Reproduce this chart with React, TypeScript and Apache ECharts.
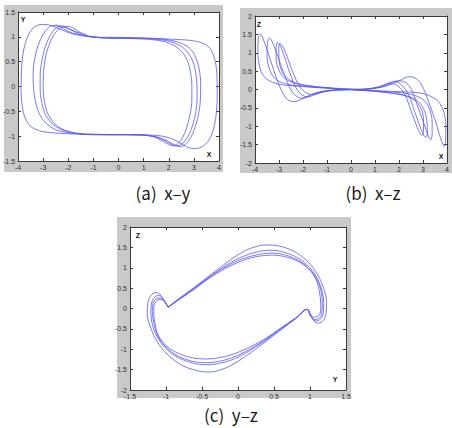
import React, { useEffect, useRef } from "react";
import * as echarts from "echarts";

type Pt = [number, number];

// ---- (a) x–y projection: traced orbit loops ----
const xyLoop1: Pt[] = [[0.0,0.99],[0.9,0.98],[1.8,0.96],[2.6,0.94],[3.1,0.91],[3.45,0.85],[3.68,0.74],[3.84,0.53],[3.92,0.2],[3.93,-0.15],[3.9,-0.5],[3.8,-0.82],[3.6,-1.08],[3.3,-1.22],[3.0,-1.25],[2.7,-1.21],[2.4,-1.12],[2.0,-1.03],[1.4,-0.98],[0.6,-0.97],[-0.4,-0.97],[-1.3,-0.96],[-2.1,-0.95],[-2.7,-0.93],[-3.15,-0.89],[-3.5,-0.8],[-3.72,-0.63],[-3.83,-0.4],[-3.88,-0.1],[-3.87,0.25],[-3.82,0.6],[-3.68,0.92],[-3.45,1.15],[-3.18,1.24],[-2.93,1.25],[-2.65,1.22],[-2.3,1.15],[-1.9,1.07],[-1.4,1.02],[-0.7,0.99],[0.0,0.99]];
const xyLoop2: Pt[] = [[0.0,0.98],[0.9,0.97],[1.6,0.96],[2.1,0.93],[2.5,0.87],[2.85,0.76],[3.08,0.58],[3.21,0.35],[3.27,0.05],[3.26,-0.25],[3.2,-0.52],[3.06,-0.8],[2.86,-1.04],[2.65,-1.17],[2.47,-1.21],[2.25,-1.18],[1.95,-1.1],[1.55,-1.02],[1.0,-0.98],[0.2,-0.97],[-0.8,-0.97],[-1.5,-0.96],[-2.0,-0.93],[-2.45,-0.88],[-2.82,-0.77],[-3.1,-0.6],[-3.28,-0.36],[-3.38,-0.06],[-3.4,0.25],[-3.34,0.55],[-3.2,0.83],[-3.0,1.05],[-2.78,1.19],[-2.57,1.23],[-2.33,1.2],[-2.05,1.12],[-1.65,1.05],[-1.1,1.0],[-0.5,0.98],[0.0,0.98]];
const xyLoop3: Pt[] = [[0.0,0.97],[0.9,0.97],[1.5,0.95],[1.95,0.92],[2.35,0.85],[2.68,0.73],[2.92,0.55],[3.06,0.32],[3.12,0.05],[3.13,-0.22],[3.08,-0.5],[2.95,-0.78],[2.75,-1.02],[2.52,-1.16],[2.3,-1.2],[2.08,-1.16],[1.8,-1.08],[1.45,-1.01],[0.9,-0.98],[0.0,-0.97],[-0.9,-0.97],[-1.45,-0.96],[-1.95,-0.92],[-2.35,-0.85],[-2.68,-0.73],[-2.92,-0.55],[-3.06,-0.32],[-3.12,-0.05],[-3.12,0.22],[-3.06,0.5],[-2.93,0.78],[-2.73,1.02],[-2.5,1.17],[-2.26,1.22],[-2.02,1.18],[-1.75,1.1],[-1.4,1.03],[-0.9,0.99],[0.0,0.97]];
const xyLoop4: Pt[] = [[0.0,0.97],[0.8,0.96],[1.4,0.94],[1.85,0.9],[2.2,0.83],[2.5,0.71],[2.73,0.53],[2.86,0.3],[2.92,0.02],[2.92,-0.25],[2.86,-0.53],[2.73,-0.8],[2.55,-1.03],[2.35,-1.16],[2.15,-1.19],[1.93,-1.15],[1.65,-1.07],[1.3,-1.0],[0.7,-0.97],[-0.2,-0.97],[-1.0,-0.96],[-1.5,-0.95],[-1.95,-0.91],[-2.3,-0.84],[-2.6,-0.72],[-2.82,-0.54],[-2.95,-0.3],[-3.0,-0.02],[-2.99,0.27],[-2.92,0.55],[-2.78,0.82],[-2.56,1.05],[-2.3,1.18],[-2.0,1.21],[-1.75,1.16],[-1.5,1.08],[-1.2,1.02],[-0.7,0.98],[0.0,0.97]];
const xyTail: Pt[] = [[-2.5,1.24],[-2.2,1.2],[-1.85,1.13],[-1.55,1.08],[-1.3,1.05]];

// ---- (b) x–z projection ----
const xzLoop1: Pt[] = [[0.0,0.0],[-0.9,-0.03],[-1.5,-0.1],[-1.95,-0.22],[-2.35,-0.33],[-2.65,-0.27],[-2.88,-0.05],[-3.1,0.3],[-3.33,0.75],[-3.55,1.18],[-3.7,1.43],[-3.8,1.52],[-3.86,1.38],[-3.88,1.05],[-3.84,0.72],[-3.7,0.43],[-3.46,0.26],[-3.05,0.15],[-2.45,0.1],[-1.7,0.07],[-0.9,0.04],[0.0,0.0],[0.9,0.03],[1.5,0.1],[1.95,0.22],[2.45,0.35],[2.78,0.26],[3.02,0.02],[3.28,-0.42],[3.5,-0.82],[3.66,-1.18],[3.8,-1.45],[3.9,-1.55],[3.94,-1.4],[3.95,-1.05],[3.9,-0.7],[3.74,-0.42],[3.5,-0.25],[3.0,-0.11],[2.4,-0.07],[1.7,-0.05],[0.9,-0.03],[0.0,0.0]];
const xzLoop2: Pt[] = [[0,0.01],[-0.9,-0.02],[-1.5,-0.1],[-2.0,-0.24],[-2.3,-0.17],[-2.55,0.05],[-2.8,0.45],[-3.05,0.9],[-3.25,1.25],[-3.4,1.4],[-3.48,1.28],[-3.5,0.95],[-3.42,0.6],[-3.2,0.32],[-2.8,0.17],[-2.2,0.1],[-1.4,0.05],[-0.6,0.02],[0.3,-0.01],[1.0,0.03],[1.5,0.12],[1.95,0.24],[2.3,0.18],[2.55,-0.05],[2.8,-0.5],[3.05,-0.95],[3.22,-1.27],[3.31,-1.37],[3.38,-1.22],[3.38,-0.9],[3.28,-0.55],[3.05,-0.3],[2.65,-0.16],[2.1,-0.09],[1.3,-0.05],[0.6,-0.02],[0,0.01]];
const xzLoop3: Pt[] = [[0,-0.01],[-0.8,-0.03],[-1.35,-0.1],[-1.8,-0.2],[-2.1,-0.12],[-2.35,0.12],[-2.6,0.55],[-2.82,0.98],[-2.97,1.22],[-3.06,1.28],[-3.12,1.15],[-3.12,0.85],[-3.0,0.52],[-2.75,0.3],[-2.35,0.17],[-1.8,0.1],[-1.0,0.05],[-0.3,0.02],[0.5,0.0],[1.1,0.06],[1.45,0.14],[1.8,0.22],[2.1,0.13],[2.4,-0.15],[2.65,-0.6],[2.9,-1.05],[3.05,-1.27],[3.13,-1.3],[3.18,-1.15],[3.16,-0.85],[3.02,-0.52],[2.75,-0.3],[2.3,-0.17],[1.7,-0.1],[1.0,-0.05],[0,-0.01]];
const xzLoop4: Pt[] = [[0,0.0],[-0.7,-0.02],[-1.2,-0.07],[-1.55,-0.14],[-1.9,-0.08],[-2.2,0.15],[-2.5,0.6],[-2.72,1.0],[-2.87,1.2],[-2.96,1.25],[-3.01,1.12],[-3.0,0.82],[-2.88,0.5],[-2.6,0.28],[-2.2,0.16],[-1.6,0.09],[-0.9,0.04],[0,0.0],[0.7,0.02],[1.2,0.08],[1.6,0.17],[1.95,0.1],[2.25,-0.15],[2.5,-0.58],[2.75,-1.02],[2.9,-1.22],[2.96,-1.25],[3.02,-1.12],[3.02,-0.82],[2.9,-0.5],[2.62,-0.28],[2.2,-0.16],[1.6,-0.09],[0.9,-0.04],[0,0.0]];

// ---- (c) y–z projection ----
const yzLoop1: Pt[] = [[-0.97,0.04],[-0.8,0.27],[-0.6,0.53],[-0.35,0.87],[-0.1,1.2],[0.1,1.42],[0.25,1.52],[0.4,1.56],[0.58,1.53],[0.78,1.4],[0.95,1.18],[1.08,0.9],[1.18,0.55],[1.23,0.15],[1.22,-0.15],[1.17,-0.32],[1.1,-0.36],[1.03,-0.22],[0.96,-0.02],[0.8,-0.25],[0.6,-0.52],[0.35,-0.86],[0.1,-1.18],[-0.1,-1.4],[-0.25,-1.51],[-0.4,-1.56],[-0.58,-1.52],[-0.78,-1.39],[-0.96,-1.16],[-1.1,-0.88],[-1.2,-0.53],[-1.26,-0.13],[-1.25,0.15],[-1.2,0.34],[-1.12,0.39],[-1.05,0.26],[-0.97,0.04]];
const yzLoop2: Pt[] = [[-0.97,0.03],[-0.8,0.26],[-0.6,0.51],[-0.35,0.84],[-0.1,1.13],[0.1,1.3],[0.27,1.39],[0.43,1.43],[0.6,1.4],[0.8,1.27],[0.96,1.07],[1.08,0.8],[1.16,0.48],[1.19,0.12],[1.18,-0.15],[1.13,-0.28],[1.07,-0.31],[1.01,-0.18],[0.96,-0.02],[0.8,-0.25],[0.6,-0.5],[0.35,-0.82],[0.1,-1.1],[-0.1,-1.27],[-0.27,-1.35],[-0.42,-1.38],[-0.6,-1.35],[-0.8,-1.23],[-0.97,-1.03],[-1.1,-0.76],[-1.18,-0.45],[-1.21,-0.1],[-1.2,0.14],[-1.16,0.28],[-1.09,0.32],[-1.03,0.21],[-0.97,0.03]];
const yzLoop3: Pt[] = [[-0.97,0.03],[-0.8,0.25],[-0.6,0.5],[-0.35,0.82],[-0.1,1.09],[0.1,1.24],[0.27,1.32],[0.44,1.36],[0.62,1.33],[0.82,1.2],[0.97,1.01],[1.08,0.76],[1.15,0.45],[1.17,0.1],[1.16,-0.14],[1.12,-0.25],[1.06,-0.27],[1.0,-0.16],[0.96,-0.02],[0.8,-0.24],[0.6,-0.49],[0.35,-0.8],[0.1,-1.06],[-0.1,-1.22],[-0.27,-1.3],[-0.43,-1.33],[-0.62,-1.3],[-0.82,-1.18],[-0.98,-0.98],[-1.1,-0.72],[-1.16,-0.42],[-1.19,-0.08],[-1.18,0.13],[-1.14,0.23],[-1.08,0.26],[-1.02,0.17],[-0.97,0.03]];
const yzLoop4: Pt[] = [[-0.97,0.03],[-0.8,0.24],[-0.6,0.48],[-0.35,0.8],[-0.1,1.05],[0.1,1.2],[0.28,1.28],[0.45,1.31],[0.63,1.28],[0.83,1.16],[0.98,0.97],[1.08,0.73],[1.13,0.42],[1.15,0.08],[1.14,-0.12],[1.1,-0.2],[1.05,-0.21],[1.0,-0.13],[0.96,-0.02],[0.8,-0.23],[0.6,-0.47],[0.35,-0.77],[0.1,-1.0],[-0.1,-1.14],[-0.27,-1.21],[-0.44,-1.24],[-0.63,-1.21],[-0.83,-1.1],[-0.99,-0.92],[-1.1,-0.68],[-1.15,-0.4],[-1.17,-0.07],[-1.16,0.12],[-1.12,0.2],[-1.07,0.22],[-1.01,0.14],[-0.97,0.03]];

// axis ranges: [min, max, interval]
const xyRangeX = [-4, 4, 1];
const xyRangeY = [-1.5, 1.5, 0.5];
const xzRangeX = [-4, 4, 1];
const xzRangeY = [-2, 2, 0.5];
const yzRangeX = [-1.5, 1.5, 0.5];
const yzRangeY = [-2, 2, 0.5];

const captions = ["(a)  x\u2013y", "(b)  x\u2013z", "(c)  y\u2013z"];

const LINE_COLOR = "#5a5aee";
const AXIS_COLOR = "#3a3a3a";
const LABEL_FONT = "Liberation Sans";

const panels = [
  { grid: { left: 18, top: 12, width: 201, height: 149 }, rx: xyRangeX, ry: xyRangeY, loops: [xyLoop1, xyLoop2, xyLoop3, xyLoop4, xyTail] },
  { grid: { left: 255, top: 16, width: 194, height: 147 }, rx: xzRangeX, ry: xzRangeY, loops: [xzLoop1, xzLoop2, xzLoop3, xzLoop4] },
  { grid: { left: 130, top: 227, width: 216, height: 163 }, rx: yzRangeX, ry: yzRangeY, loops: [yzLoop1, yzLoop2, yzLoop3, yzLoop4] },
];

function axisPair(dim: "x" | "y", gridIndex: number, r: number[]) {
  const base = {
    gridIndex,
    type: "value" as const,
    min: r[0],
    max: r[1],
    interval: r[2],
    splitLine: { show: false },
    axisLine: { show: true, onZero: false, lineStyle: { color: AXIS_COLOR, width: 1 } },
    axisTick: { show: true, inside: true, length: 3, lineStyle: { color: AXIS_COLOR, width: 1 } },
  };
  return [
    {
      ...base,
      position: dim === "x" ? "bottom" : "left",
      axisLabel: {
        show: true,
        fontSize: 7,
        color: "#333",
        fontFamily: LABEL_FONT,
        margin: 3,
        hideOverlap: false,
        showMinLabel: true,
        showMaxLabel: true,
      },
    },
    { ...base, position: dim === "x" ? "top" : "right", axisLabel: { show: false } },
  ];
}

function axisNameText(text: string, x: number, y: number) {
  return {
    type: "text",
    x,
    y,
    z: 10,
    style: {
      text,
      fill: "#111",
      font: `bold 7px "${LABEL_FONT}"`,
      textAlign: "center",
      textVerticalAlign: "middle",
      align: "center",
      verticalAlign: "middle",
    },
  };
}

function captionText(text: string, x: number, y: number) {
  return {
    type: "text",
    x,
    y,
    z: 10,
    style: {
      text,
      fill: "#1a1a1a",
      font: `17px "Noto Sans CJK KR"`,
      textAlign: "center",
      textVerticalAlign: "middle",
      align: "center",
      verticalAlign: "middle",
    },
  };
}

function frameRect(x: number, y: number, w: number, h: number) {
  return { type: "rect", z: -10, shape: { x, y, width: w, height: h }, style: { fill: "#c9c9c9" } };
}

export default function App() {
  const ref = useRef<HTMLDivElement>(null);

  useEffect(() => {
    if (!ref.current) return;
    const chart = echarts.init(ref.current, null, { renderer: "svg" });

    const xAxis: any[] = [];
    const yAxis: any[] = [];
    const series: any[] = [];
    panels.forEach((p, i) => {
      xAxis.push(...axisPair("x", i, p.rx));
      yAxis.push(...axisPair("y", i, p.ry));
      p.loops.forEach((loop) => {
        series.push({
          type: "line",
          xAxisIndex: i * 2,
          yAxisIndex: i * 2,
          data: loop,
          showSymbol: false,
          symbol: "none",
          smooth: 0.35,
          clip: true,
          lineStyle: { color: LINE_COLOR, width: 0.9, opacity: 0.9 },
          silent: true,
        });
      });
    });

    chart.setOption({
      animation: false,
      backgroundColor: "#ffffff",
      grid: panels.map((p) => ({
        ...p.grid,
        show: true,
        backgroundColor: "#ffffff",
        borderWidth: 0,
        containLabel: false,
      })),
      xAxis,
      yAxis,
      series,
      graphic: {
        elements: [
          frameRect(4, 5, 219, 167),
          frameRect(240, 8, 212, 165),
          frameRect(117, 217, 234, 181),
          axisNameText("Y", 23, 19),
          axisNameText("X", 209, 154),
          axisNameText("Z", 259, 24),
          axisNameText("X", 441, 156),
          axisNameText("Z", 138, 235),
          axisNameText("Y", 335, 379),
          captionText(captions[0], 163, 192),
          captionText(captions[1], 373, 192),
          captionText(captions[2], 231, 414),
        ],
      },
    });

    return () => chart.dispose();
  }, []);

  return (
    <div
      ref={ref}
      style={{ position: "absolute", left: 0, top: 0, width: 452, height: 428 }}
    />
  );
}
